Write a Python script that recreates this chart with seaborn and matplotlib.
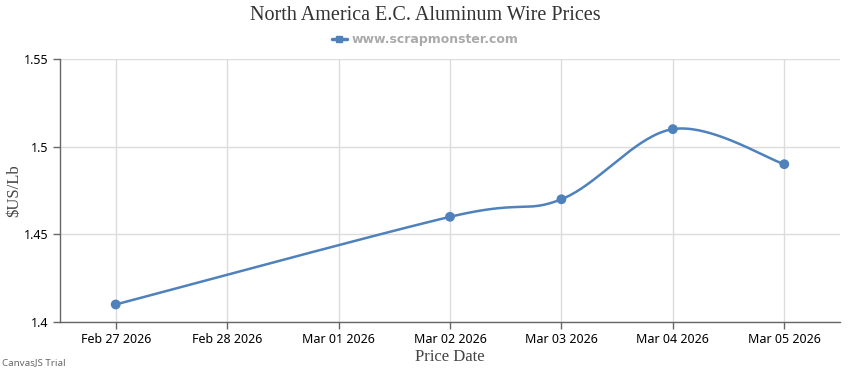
import numpy as np
import pandas as pd
import matplotlib
matplotlib.use("Agg")
import matplotlib.pyplot as plt
import seaborn as sns
from matplotlib.lines import Line2D

# data
dates = ["2026-02-27", "2026-03-02", "2026-03-03", "2026-03-04", "2026-03-05"]
prices = [1.41, 1.46, 1.47, 1.51, 1.49]
tick_dates = ["2026-02-27", "2026-02-28", "2026-03-01", "2026-03-02",
              "2026-03-03", "2026-03-04", "2026-03-05"]
tick_labels = ["Feb 27 2026", "Feb 28 2026", "Mar 01 2026", "Mar 02 2026",
               "Mar 03 2026", "Mar 04 2026", "Mar 05 2026"]
y_ticks = [1.4, 1.45, 1.5, 1.55]
y_tick_labels = ["1.4", "1.45", "1.5", "1.55"]

start = pd.Timestamp(tick_dates[0])
df = pd.DataFrame({"date": pd.to_datetime(dates), "price": prices})
df["day"] = (df["date"] - start).dt.days.astype(float)
tick_pos = [(pd.Timestamp(d) - start).days for d in tick_dates]

blue = "#4F81BC"

sns.set_theme(style="white")
plt.rcParams["font.family"] = ["Noto Sans", "DejaVu Sans"]

fig = plt.figure(figsize=(8.5, 3.7), dpi=100)
ax = fig.add_axes([60 / 850, 1 - 322 / 370, 780 / 850, 263 / 370])


# cardinal (Catmull-Rom) spline like the web chart's "spline" type
def spline(xs, ys, n=40):
    pts = np.column_stack([xs, ys])
    pts = np.vstack([pts[0], pts, pts[-1]])
    out = []
    for i in range(1, len(pts) - 2):
        p0, p1, p2, p3 = pts[i - 1], pts[i], pts[i + 1], pts[i + 2]
        c1 = p1 + (p2 - p0) / 6
        c2 = p2 - (p3 - p1) / 6
        t = np.linspace(0, 1, n)[:, None]
        seg = ((1 - t) ** 3) * p1 + 3 * ((1 - t) ** 2) * t * c1 \
            + 3 * (1 - t) * t ** 2 * c2 + t ** 3 * p2
        out.append(seg)
    return np.vstack(out)


curve = spline(df["day"].values, df["price"].values)
ax.plot(curve[:, 0], curve[:, 1], color=blue, lw=1.8, zorder=3,
        solid_capstyle="round")
sns.scatterplot(data=df, x="day", y="price", color=blue, s=50,
                edgecolor="none", ax=ax, zorder=4)

ax.set_xlim(-0.5, 6.5)
ax.set_ylim(1.4, 1.55)
ax.set_xticks(tick_pos)
ax.set_xticklabels(tick_labels, fontsize=9, color="black")
ax.set_yticks(y_ticks)
ax.set_yticklabels(y_tick_labels, fontsize=9, color="black")
ax.grid(True, color="#dcdcdc", lw=1)
ax.set_axisbelow(True)
for s in ["top", "right"]:
    ax.spines[s].set_visible(False)
for s in ["left", "bottom"]:
    ax.spines[s].set_color("#666666")
    ax.spines[s].set_linewidth(1)
ax.tick_params(axis="both", length=5, width=1, color="#666666",
               direction="out", pad=3, left=True, bottom=True)

ax.set_xlabel("Price Date", family="Liberation Serif", fontsize=12,
              color="#444444")
ax.xaxis.set_label_coords(0.5, -0.102)
ax.set_ylabel("$US/Lb", family="Liberation Serif", fontsize=12,
              color="#444444")
ax.yaxis.set_label_coords(-0.049, 0.5)

fig.text(0.5, 1 - 16 / 370, "North America E.C. Aluminum Wire Prices",
         ha="center", va="center", family="Liberation Serif", fontsize=14.5,
         color="#333333")

handle = Line2D([], [], color=blue, lw=2.5, marker="s", markersize=5)
fig.legend([handle], ["www.scrapmonster.com"], loc="center",
           bbox_to_anchor=(0.5, 1 - 40 / 370), frameon=False, handlelength=1.2,
           handletextpad=0.4, prop={"family": "DejaVu Sans", "weight": "bold",
                                    "size": 9}, labelcolor="#aaaaaa")

fig.text(2 / 850, 1 - 363 / 370, "CanvasJS Trial", ha="left", va="center",
         fontsize=7, color="#666666")

fig.savefig("out.png", dpi=100)
